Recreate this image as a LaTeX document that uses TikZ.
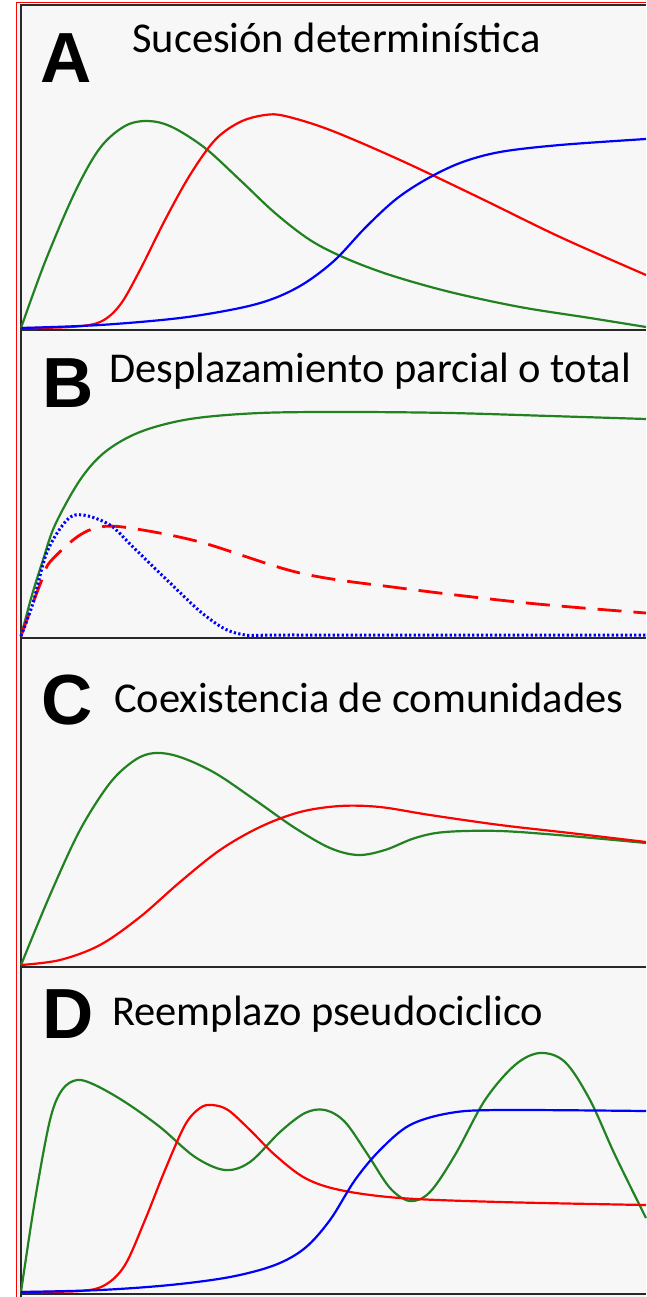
\documentclass[tikz,border=0pt]{standalone}
\usepackage{fontspec}
\setmainfont{Carlito}
\newfontfamily\letterfont{Liberation Sans}
\definecolor{bgc}{RGB}{247,247,247}
\definecolor{axisc}{RGB}{40,40,40}
\definecolor{cgreen}{RGB}{34,130,34}
\definecolor{cred}{RGB}{255,0,0}
\definecolor{cblue}{RGB}{0,0,255}
\tikzset{
  paneltitle/.style={anchor=base west, inner sep=0pt, font=\fontsize{42.5}{50}\selectfont},
  panelletter/.style={anchor=base west, inner sep=0pt, font=\letterfont\bfseries\fontsize{71}{80}\selectfont},
  axisline/.style={axisc, line width=2pt},
  curve/.style={line width=2.2pt, smooth, tension=0.55},
  gcurve/.style={curve, draw=cgreen},
  rcurve/.style={curve, draw=cred},
  bcurve/.style={curve, draw=cblue},
  rdashed/.style={line width=2.8pt, draw=cred, smooth, tension=0.55, dash pattern=on 24pt off 12pt},
  bdotted/.style={line width=3pt, draw=cblue, smooth, tension=0.55, dash pattern=on 2.2pt off 2.3pt},
}
\begin{document}
\begin{tikzpicture}[x=1pt,y=-1pt]
\useasboundingbox (0,0) rectangle (646,1297);
\fill[white] (0,0) rectangle (646,1297);
\fill[bgc] (18,4) rectangle (646,1297);
% frame
\draw[cred, line width=1.8pt] (16.5,1297) -- (16.5,2.5) -- (646,2.5);
\draw[axisc, line width=2pt] (20.5,1297) -- (20.5,5.5) -- (646,5.5);
% panel baselines
\draw[axisline] (20,330) -- (646,330);
\draw[axisline] (20,638) -- (646,638);
\draw[axisline] (20,967) -- (646,967);
\draw[axisline] (20,1294) -- (646,1294);

% ---------- Panel A ----------
\node[panelletter] (la) at (40,83) {A};
\node[paneltitle] (ta) at (132,53) {Sucesión determinística};
\draw[gcurve] plot coordinates {(21,328) (45,262) (75,192) (100,148) (125,126) (148,121) (172,127) (205,148) (240,180) (275,213) (310,240) (345,258) (390,275) (450,292) (520,307) (590,318) (646,327)};
\draw[rcurve] plot coordinates {(21,328) (70,327) (100,322) (120,305) (140,270) (165,220) (190,175) (215,140) (240,122) (265,115) (285,116) (330,130) (400,160) (480,198) (560,237) (646,275)};
\draw[bcurve] plot coordinates {(21,328) (100,325) (180,318) (240,308) (275,298) (305,283) (335,260) (365,228) (395,200) (425,180) (460,163) (500,152) (560,145) (646,139)};

% ---------- Panel B ----------
\node[panelletter] (lb) at (42,407) {B};
\node[paneltitle] (tb) at (109,382) {Desplazamiento parcial o total};
\draw[gcurve] plot coordinates {(21,636) (32,595) (43,560) (55,525) (80,480) (105,452) (140,432) (190,419) (260,413) (350,412) (450,413) (550,416) (646,419)};
\draw[rdashed] plot coordinates {(21,636) (33,603) (43,577) (50,562) (77,537) (100,527) (130,528) (200,542) (300,573) (400,588) (527,603) (646,613)};
\draw[bdotted] plot coordinates {(21,636) (33,603) (47,552) (67,520) (83,515) (110,525) (133,547) (167,580) (207,617) (240,634) (300,635) (646,635)};

% ---------- Panel C ----------
\node[panelletter] (lc) at (41,724) {C};
\node[paneltitle] (tc) at (114,712) {Coexistencia de comunidades};
\draw[gcurve] plot coordinates {(21,965) (50,895) (80,830) (110,783) (135,760) (155,753) (180,757) (215,773) (255,800) (295,828) (330,848) (358,855) (385,850) (415,838) (445,832) (500,831) (570,836) (646,843)};
\draw[rcurve] plot coordinates {(21,965) (60,960) (100,945) (140,917) (180,882) (220,850) (260,827) (300,812) (340,806) (380,807) (430,815) (500,825) (570,833) (646,842)};

% ---------- Panel D ----------
\node[panelletter] (ld) at (42,1038) {D};
\node[paneltitle] (td) at (112,1025) {Reemplazo pseudociclico};
\draw[gcurve] plot coordinates {(21,1292) (35,1200) (50,1120) (62,1090) (77,1080) (95,1085) (125,1102) (160,1127) (195,1157) (225,1170) (250,1162) (280,1132) (305,1113) (325,1110) (345,1122) (368,1155) (390,1188) (410,1201) (430,1192) (455,1155) (485,1100) (515,1065) (540,1053) (565,1062) (590,1100) (615,1155) (646,1218)};
\draw[rcurve] plot coordinates {(21,1292) (80,1291) (105,1285) (125,1265) (145,1220) (165,1170) (185,1125) (200,1108) (212,1105) (228,1110) (250,1130) (275,1155) (305,1178) (340,1190) (400,1198) (500,1202) (646,1205)};
\draw[bcurve] plot coordinates {(21,1292) (100,1290) (170,1285) (230,1277) (275,1265) (305,1248) (330,1220) (355,1180) (380,1150) (410,1125) (450,1113) (500,1110) (646,1111)};
\end{tikzpicture}
\end{document}
